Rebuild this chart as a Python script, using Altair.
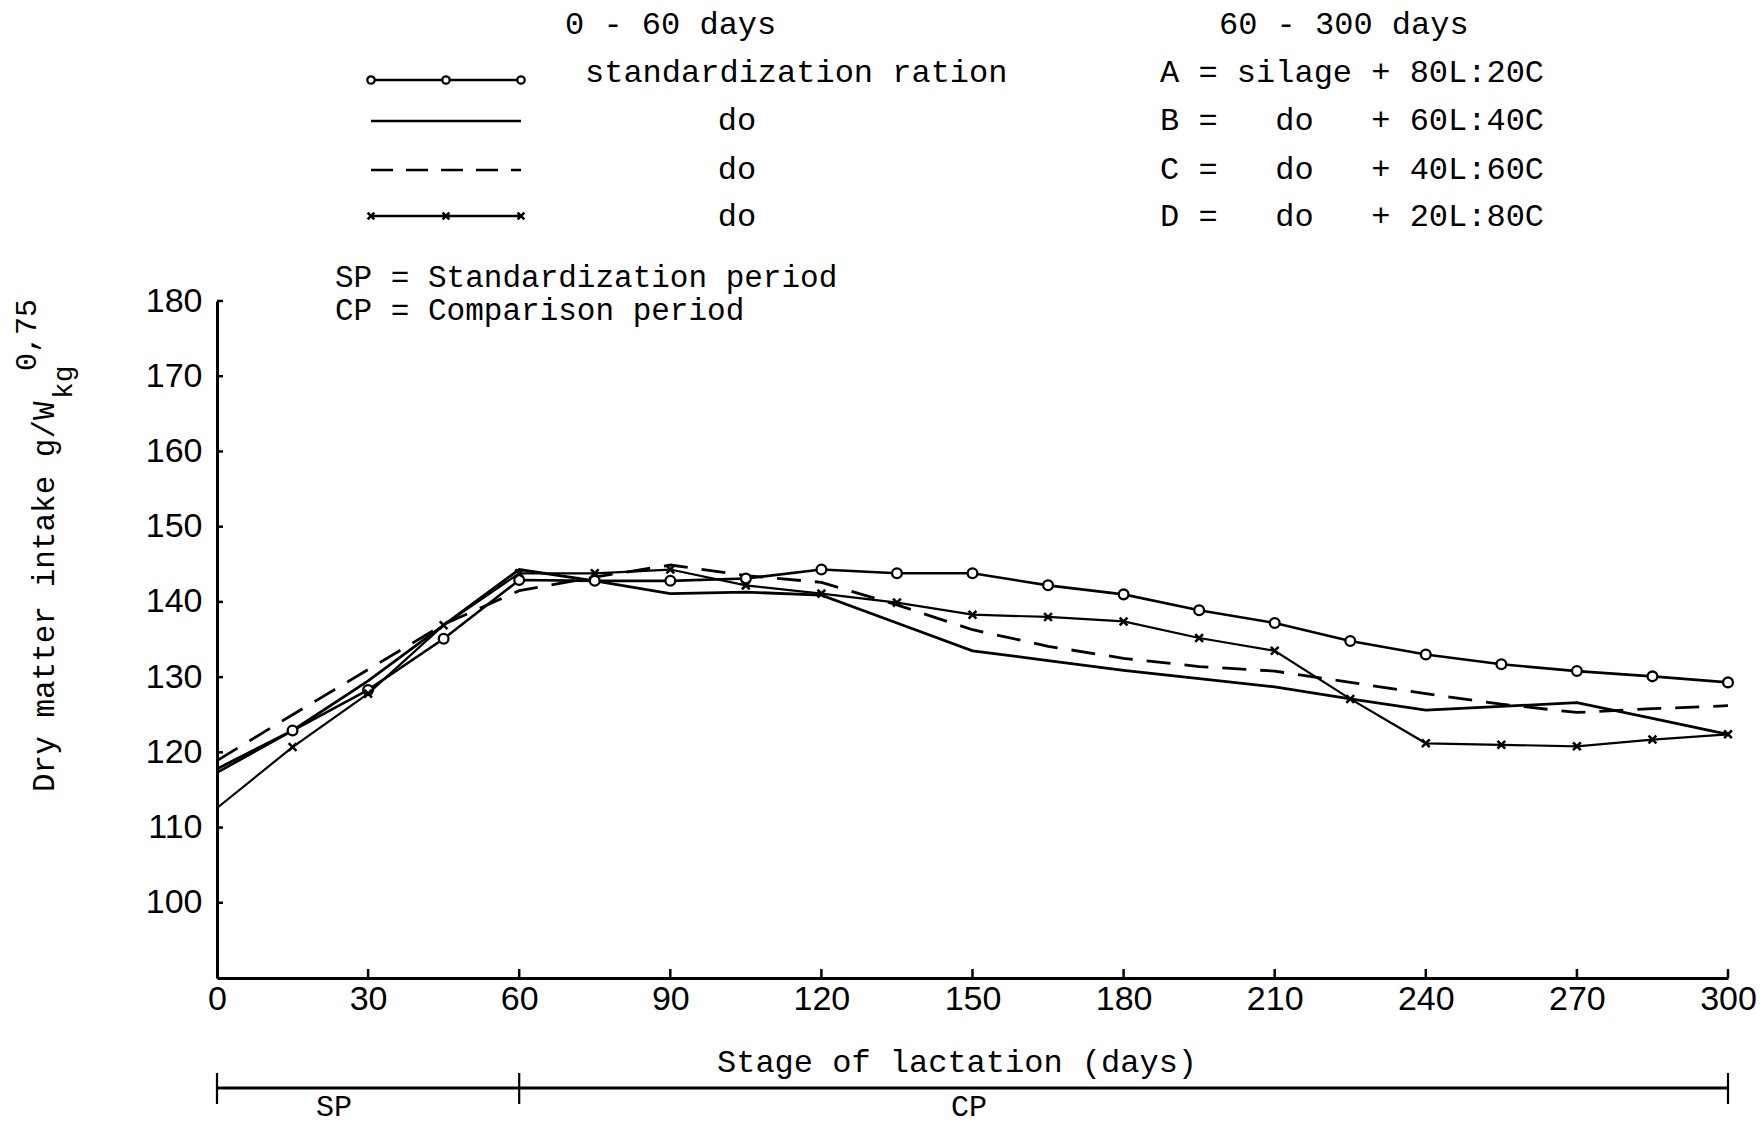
import altair as alt
import pandas as pd

# ---------------- data ----------------
days = [0, 15, 30, 45, 60, 75, 90, 105, 120, 135, 150, 165, 180, 195, 210,
        225, 240, 255, 270, 285, 300]

ration_A = [117.3, 122.9, 128.3, 135.1, 142.9, 142.8, 142.8, 143.1, 144.3, 143.8,
            143.8, 142.2, 141.0, 138.9, 137.2, 134.8, 133.0, 131.7, 130.8, 130.1, 129.3]
ration_B = [117.8, 122.9, 129.5, 136.9, 144.3, 142.8, 141.1, 141.3, 140.9, 137.2,
            133.5, 132.2, 130.9, 129.8, 128.7, 127.1, 125.6, 126.1, 126.6, 124.5, 122.4]
ration_C = [118.9, 125.0, 131.0, 137.0, 141.5, 143.3, 144.9, 143.5, 142.6, 139.6,
            136.3, 134.1, 132.5, 131.4, 130.8, 129.3, 127.8, 126.4, 125.3, 125.8, 126.2]
ration_D = [112.6, 120.7, 127.8, 136.9, 143.8, 143.8, 144.3, 142.2, 141.1, 139.9,
            138.3, 138.0, 137.4, 135.2, 133.5, 127.1, 121.2, 121.0, 120.8, 121.7, 122.4]

x_ticks = [0, 30, 60, 90, 120, 150, 180, 210, 240, 270, 300]
y_ticks = [100, 110, 120, 130, 140, 150, 160, 170, 180]
period_bounds = [0, 60, 300]

header_left = "0 - 60 days"
header_right = "60 - 300 days"
legend_left = ["standardization ration", "do", "do", "do"]
legend_right = ["A = silage + 80L:20C",
                "B =\u00a0\u00a0\u00a0do\u00a0\u00a0\u00a0+ 60L:40C",
                "C =\u00a0\u00a0\u00a0do\u00a0\u00a0\u00a0+ 40L:60C",
                "D =\u00a0\u00a0\u00a0do\u00a0\u00a0\u00a0+ 20L:80C"]
note_sp = "SP = Standardization period"
note_cp = "CP = Comparison period"
x_title = "Stage of lactation (days)"
y_title_main = "Dry matter intake g/W"
y_title_sub = "kg"
y_title_sup = "0,75"

# ---------------- layout ----------------
W, H = 1511, 677
MONO = "Liberation Mono"
SANS = "Liberation Sans"
INK = "black"

rows = []
for name, vals in (("A", ration_A), ("B", ration_B), ("C", ration_C), ("D", ration_D)):
    for d, v in zip(days, vals):
        rows.append({"day": d, "value": v, "series": name})
df = pd.DataFrame(rows)

xscale = alt.Scale(domain=[0, 300], nice=False, zero=False)
yscale = alt.Scale(domain=[90, 180], nice=False, zero=False)

x_axis = alt.Axis(values=x_ticks, title=None, ticks=False, grid=False,
                  labelFont=SANS, labelFontSize=34, labelColor=INK, labelPadding=4,
                  domainColor=INK, domainWidth=3, labelFlush=False)
y_axis = alt.Axis(values=y_ticks, title=None, ticks=False, grid=False,
                  labelFont=SANS, labelFontSize=34, labelColor=INK, labelPadding=15,
                  domainColor=INK, domainWidth=3)

base = alt.Chart(df)


def series_line(name, **kw):
    return base.transform_filter(alt.datum.series == name).mark_line(color=INK, **kw).encode(
        x=alt.X("day:Q", scale=xscale, axis=x_axis),
        y=alt.Y("value:Q", scale=yscale, axis=y_axis),
    )


line_A = series_line("A", strokeWidth=2.6)
line_B = series_line("B", strokeWidth=2.8)
line_C = series_line("C", strokeWidth=2.8, strokeDash=[24, 14])
line_D = series_line("D", strokeWidth=2.2)

CIRCLE_MARK = dict(shape="circle", fill="white", fillOpacity=1, stroke=INK,
                   strokeWidth=2.3, opacity=1)
X_SHAPE = "M-1,-1L1,1M-1,1L1,-1"
X_MARK = dict(shape=X_SHAPE, filled=False, stroke=INK, strokeWidth=2.6, opacity=1)

pts_A = base.transform_filter((alt.datum.series == "A") & (alt.datum.day > 0)).mark_point(
    size=95, **CIRCLE_MARK).encode(
    x=alt.X("day:Q", scale=xscale), y=alt.Y("value:Q", scale=yscale))
pts_D = base.transform_filter((alt.datum.series == "D") & (alt.datum.day > 0)).mark_point(
    size=60, **X_MARK).encode(
    x=alt.X("day:Q", scale=xscale), y=alt.Y("value:Q", scale=yscale))

# inner tick marks
ytick_df = pd.DataFrame({"v": y_ticks})
y_tick_marks = alt.Chart(ytick_df).mark_rule(color=INK, strokeWidth=2.5).encode(
    y=alt.Y("v:Q", scale=yscale), x=alt.value(0), x2=alt.value(6))
xtick_df = pd.DataFrame({"d": x_ticks[1:]})
x_tick_marks = alt.Chart(xtick_df).mark_rule(color=INK, strokeWidth=2.5).encode(
    x=alt.X("d:Q", scale=xscale), y=alt.value(H), y2=alt.value(H - 9))

# period bar under the axis
per_df = pd.DataFrame({"start": period_bounds[:-1], "end": period_bounds[1:]})
period_bar = alt.Chart(per_df).mark_rule(color=INK, strokeWidth=3).encode(
    x=alt.X("start:Q", scale=xscale), x2="end:Q", y=alt.value(787))
bound_df = pd.DataFrame({"d": period_bounds})
period_ticks = alt.Chart(bound_df).mark_rule(color=INK, strokeWidth=2.2).encode(
    x=alt.X("d:Q", scale=xscale), y=alt.value(772), y2=alt.value(803))

one = pd.DataFrame({"k": [0]})


def label(text, x, y, size=32, align="left", angle=0, font=MONO, baseline="middle"):
    return alt.Chart(one).mark_text(
        text=text, font=font, fontSize=size, align=align, baseline=baseline,
        angle=angle, color=INK).encode(x=alt.value(x), y=alt.value(y))


texts = [
    label(header_left, 348, -277),
    label(header_right, 1002, -277),
    label(note_sp, 118, -23, size=31),
    label(note_cp, 118, 10, size=31),
    label(x_title, 740, 761, align="center"),
    label("SP", 117, 806, size=30, align="center"),
    label("CP", 752, 806, size=30, align="center"),
    label(y_title_main, -172, 491, size=31, angle=270),
    label(y_title_sub, -153, 98, size=28, angle=270),
    label(y_title_sup, -190, 70, size=30, angle=270),
]
row_y_text = [-229, -181, -132, -85]
for i, t in enumerate(legend_left):
    if i == 0:
        texts.append(label(t, 368, row_y_text[i]))
    else:
        texts.append(label(t, 520, row_y_text[i], align="center"))
for i, t in enumerate(legend_right):
    texts.append(label(t, 943, row_y_text[i]))

# legend samples
row_y_sym = [-221, -180, -131, -85]
sym_x = [154, 229, 304]
legend_layers = []
for i, y in enumerate(row_y_sym):
    kw = dict(color=INK, strokeWidth=2.6)
    if i == 2:
        kw["strokeDash"] = [22, 13]
    legend_layers.append(alt.Chart(one).mark_rule(**kw).encode(
        x=alt.value(sym_x[0]), x2=alt.value(sym_x[-1]), y=alt.value(y)))
for xx in sym_x:
    legend_layers.append(alt.Chart(one).mark_point(size=55, **CIRCLE_MARK).encode(
        x=alt.value(xx), y=alt.value(row_y_sym[0])))
    legend_layers.append(alt.Chart(one).mark_point(size=45, **X_MARK).encode(
        x=alt.value(xx), y=alt.value(row_y_sym[3])))

chart = alt.layer(
    line_A, line_B, line_C, line_D, pts_A, pts_D,
    y_tick_marks, x_tick_marks, period_bar, period_ticks,
    *legend_layers, *texts,
).properties(
    width=W, height=H,
    autosize=alt.AutoSizeParams(type="none"),
    padding={"left": 217, "top": 301, "right": 34, "bottom": 149},
    background="white",
).configure_view(stroke=None)

chart.save("out.html", embed_options={"renderer": "svg", "actions": False})
